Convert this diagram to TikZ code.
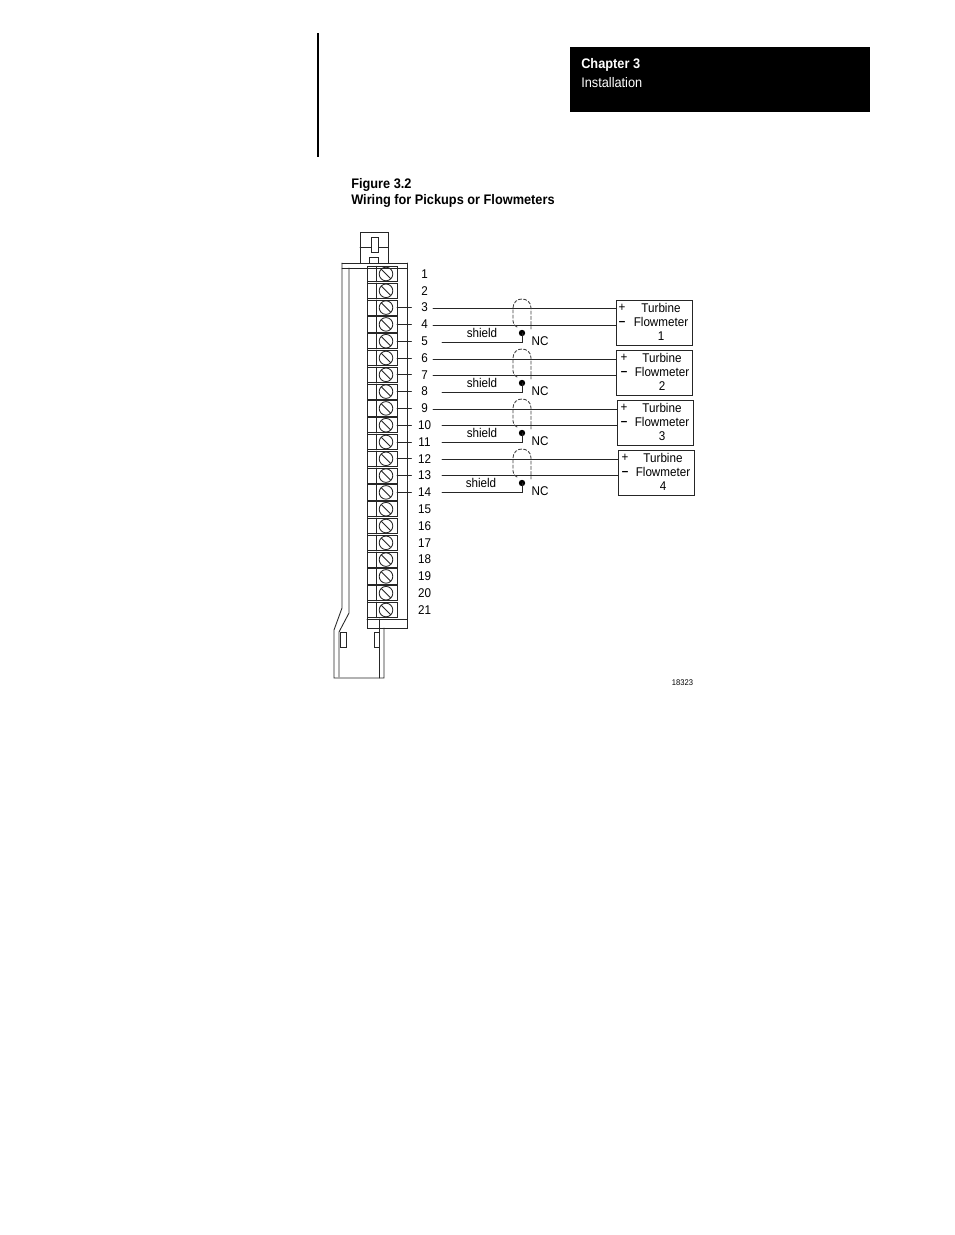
\documentclass[tikz,border=0pt]{standalone}
\usepackage{fontspec}
\setmainfont{Liberation Sans}[FakeStretch=0.92]
\begin{document}
\begin{tikzpicture}[x=0.75pt,y=-0.75pt,line cap=round,
  ln/.style={draw=black!85,line width=0.65pt},
  wire/.style={draw=black!85,line width=0.65pt},
  num/.style={font=\fontsize{9.5}{10}\selectfont,inner sep=0pt,anchor=center},
  lab/.style={font=\fontsize{9.5}{10}\selectfont,inner sep=0pt,anchor=center},
  capt/.style={font=\fontsize{10.4}{11}\selectfont\bfseries,inner sep=0pt,anchor=west},
  meter/.style={draw=black!85,line width=0.7pt,fill=white,inner sep=0pt,anchor=north west,minimum width=57pt,minimum height=33.75pt},
  shld/.style={draw=black!75,dash pattern=on 2.4pt off 1.5pt,line width=0.65pt},
  dotn/.style={circle,fill=black,inner sep=0pt,minimum size=4.8pt}]
\useasboundingbox (0,0) rectangle (954,1235);
\fill[white] (0,0) rectangle (954,1235);
% page furniture
\draw[line width=1.5pt,line cap=butt] (318,33) -- (318,157);
\fill[black] (570,47) rectangle (870,112);
\node[capt,text=white] (ch) at (581,65) {Chapter 3};
\node[capt,text=white,font=\fontsize{10.4}{12}\selectfont] (inst) at (581,82.5) {Installation};
\node[capt] (fig) at (351,185) {Figure 3.2};
\node[capt] (ttl) at (351,201) {Wiring for Pickups or Flowmeters};
\node[font=\fontsize{6.2}{7}\selectfont,inner sep=0pt] (code) at (682.5,683) {18323};
% connector top
\draw[ln] (360,263) -- (360,232) -- (388,232) -- (388,263);
\draw[ln] (360,247) -- (388,247);
\draw[ln,fill=white] (371,237) rectangle (378,252);
\draw[ln] (369,263) -- (369,257) -- (378,257) -- (378,263);
\draw[ln] (342,263) -- (407,263);
\draw[ln] (342,268) -- (407,268);
\draw[ln] (342,263) -- (342,608) -- (334,630) -- (334,678) -- (384,678) -- (384,628);
\draw[ln] (349,268) -- (349,613) -- (339,632) -- (339,677);
\draw[ln] (379,619) -- (379,678);
\draw[ln] (407,263) -- (407,628) -- (367,628) -- (367,268);
\draw[ln] (367,619) -- (407,619);
\draw[ln] (340,632) rectangle (346,647);
\draw[ln] (374,632) rectangle (379,647);
% terminals
\foreach \n in {1,...,21}{
  \pgfmathsetmacro{\yy}{274+(\n-1)*16.8}
  \draw[ln] (367.5,\yy-7.6) rectangle (397,\yy+7.6);
  \draw[ln] (376,\yy-7.6) -- (376,\yy+7.6);
  \draw[ln] (386,\yy) circle[radius=5.1pt];
  \draw[ln] (381.5,\yy-4.5) -- (390.5,\yy+4.5);
  \node[num] (t\n) at (424.5,\yy) {\n};
}
\foreach \n in {3,...,14}{
  \pgfmathsetmacro{\yy}{274+(\n-1)*16.8}
  \draw[wire] (397,\yy) -- (411.5,\yy);
}
% meters
\node[meter] (m1) at (616,300) {};
\node[meter] (m2) at (616,350) {};
\node[meter] (m3) at (617,400) {};
\node[meter] (m4) at (618,450) {};
\foreach \i/\tx/\px/\ya/\yb in {1/661/622/308/322,2/662/624/358/372,3/662/624/408/422,4/663/625/458/472}{
  \node[lab] (tu\i) at (\tx,\ya) {Turbine};
  \node[lab] (fl\i) at (\tx,\yb) {Flowmeter};
  \node[lab] (nm\i) at (\tx,\yb+14) {\i};
  \node[lab] (pl\i) at (\px,\ya) {+};
  \node[lab] (mi\i) at (\px,\yb+1.5) {\textbf{\textendash}};
}
% wires
\coordinate (a1) at (433,308); \coordinate (b1) at (433,325);
\coordinate (a2) at (433,359); \coordinate (b2) at (433,375);
\coordinate (a3) at (433,409); \coordinate (b3) at (442,425);
\coordinate (a4) at (442,459); \coordinate (b4) at (442,475);
\foreach \i in {1,...,4}{
  \draw[wire] (a\i) -- (m\i.west |- a\i);
  \draw[wire] (b\i) -- (m\i.west |- b\i);
}
% shields
\foreach \i/\dy/\sx/\sy/\ny in {1/333/482/342/341,2/383/482/392/391,3/433/482/442/441,4/483/481/492/491}{
  \node[dotn] (d\i) at (522,\dy) {};
  \coordinate (s\i) at (442,\sy);
  \draw[wire] (s\i) -- (d\i |- s\i) -- (d\i.center);
  \node[lab] (sh\i) at (\sx,\dy) {shield};
  \node[lab] (nc\i) at (540,\ny) {NC};
  \draw[shld] (517,\dy-6) .. controls (514,\dy-8) and (513,\dy-9) .. (513,\dy-12) -- (513,\dy-25) .. controls (513,\dy-37) and (531,\dy-37) .. (531,\dy-25) -- (531,\dy-4);
}
\end{tikzpicture}
\end{document}
